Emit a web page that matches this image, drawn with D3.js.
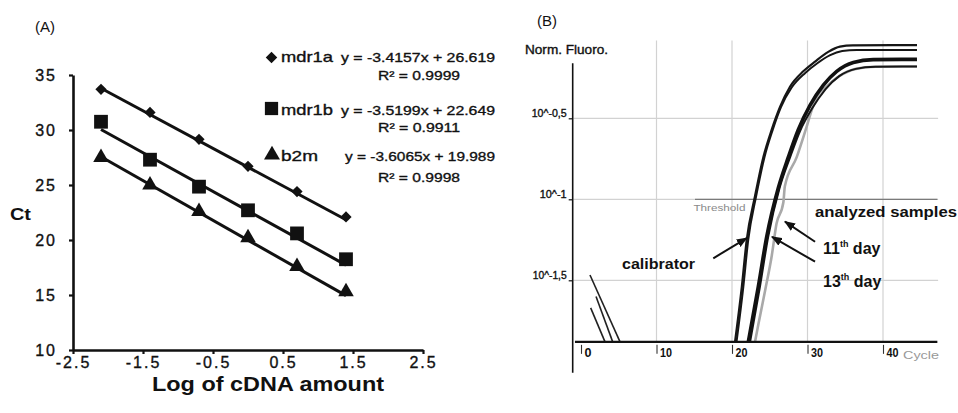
<!DOCTYPE html>
<html><head><meta charset="utf-8">
<script src="https://cdn.jsdelivr.net/npm/d3@7"></script>
<style>
html,body{margin:0;padding:0;background:#fff;}
svg{display:block;font-family:"Liberation Sans",Arial,sans-serif;}
.heavy{stroke:#111;stroke-width:0.35px;}
</style></head><body>
<svg id="chart" width="958" height="413"></svg>
<script>
// ---- (A) standard curves: Ct against log of cDNA amount ----
const logAmount = [-2.1, -1.4, -0.7, 0, 0.7, 1.4];
const ctMdr1a = [33.7, 31.6, 29.15, 26.7, 24.4, 22.1];
const ctMdr1b = [30.75, 27.3, 24.85, 22.7, 20.6, 18.25];
const ctB2m = [27.5, 25.0, 22.6, 20.2, 17.6, 15.3];
const geneNames = ["mdr1a", "mdr1b", "b2m"];
const fitSlopes = [-3.4157, -3.5199, -3.6065];
const fitIntercepts = [26.619, 22.649, 19.989];
const fitR2 = ["0.9999", "0.9911", "0.9998"];
const xTicksA = [-2.5, -1.5, -0.5, 0.5, 1.5, 2.5];
const xTickLabelsA = ["-2.5", "-1.5", "-0.5", "0.5", "1.5", "2.5"];
const yTicksA = [10, 15, 20, 25, 30, 35];

// ---- (B) amplification plot: log10 normalised fluorescence per cycle ----
const cycleTicks = [0, 10, 20, 30, 40];
const fluoroTicks = [-0.5, -1, -1.5];
const fluoroTickLabels = ["10^-0,5", "10^-1", "10^-1,5"];
const thresholdLevel = -1;
const baselineLevel = -1.88;
const calibratorA = [[20.4,-1.88],[21.3,-1.54],[21.95,-1.25],[23.05,-0.98],[24.15,-0.74],[25.26,-0.57],[26.36,-0.43],[27.68,-0.305],[29.44,-0.21],[31.0,-0.15],[32.75,-0.09],[34.3,-0.058],[36.0,-0.05],[44.5,-0.048]];
const calibratorB = [[20.6,-1.88],[21.5,-1.54],[22.15,-1.25],[23.2,-0.98],[24.3,-0.74],[25.4,-0.57],[26.5,-0.43],[27.9,-0.31],[29.7,-0.22],[31.3,-0.16],[33.0,-0.11],[34.6,-0.085],[36.5,-0.078],[44.5,-0.078]];
const day13A = [[22.16,-1.88],[23.48,-1.54],[24.6,-1.23],[26.13,-0.93],[27.46,-0.74],[28.78,-0.57],[30.33,-0.42],[32.1,-0.295],[33.87,-0.21],[36.07,-0.155],[38.7,-0.138],[44.5,-0.136]];
const day13B = [[22.4,-1.88],[23.7,-1.54],[24.8,-1.23],[26.3,-0.93],[27.7,-0.74],[29.0,-0.58],[30.6,-0.44],[32.4,-0.32],[34.2,-0.24],[36.4,-0.195],[39.0,-0.182],[44.5,-0.18]];
const day11 = [[23.05,-1.88],[23.5,-1.77],[24.4,-1.56],[25.26,-1.35],[25.9,-1.15],[26.8,-1.02],[27.0,-0.92],[28.57,-0.74],[29.9,-0.55],[30.56,-0.45],[31.2,-0.37],[32.4,-0.31],[34.2,-0.24],[36.4,-0.195],[39.0,-0.182],[44.5,-0.18]];
const earlyNoise = [
  [[1.19,-1.467],[5.17,-1.88]],
  [[1.99,-1.60],[4.2,-1.88]],
  [[1.28,-1.67],[3.18,-1.88]]
];

const svg = d3.select("#chart");

function txt(parent, str, x, y, o) {
  const t = parent.append("text").attr("x", x).attr("y", y)
    .attr("font-size", o.size || 14)
    .attr("font-weight", o.weight || "normal")
    .attr("text-anchor", o.anchor || "start")
    .attr("fill", o.fill || "#111")
    .text(str);
  if (o.heavy) t.attr("class", "heavy");
  if (o.width) t.attr("textLength", o.width).attr("lengthAdjust", "spacingAndGlyphs");
  return t;
}

// ================= Panel A =================
const xA = d3.scaleLinear().domain([-2.5, 2.5]).range([73, 423]);
const yA = d3.scaleLinear().domain([10, 35]).range([350, 75]);
const gA = svg.append("g");

const axisXA = gA.append("g").attr("transform", `translate(0,${yA(10)})`)
  .call(d3.axisBottom(xA).tickValues(xTicksA).tickFormat((d, i) => xTickLabelsA[i])
    .tickSize(4).tickSizeOuter(0).tickPadding(3));
const axisYA = gA.append("g").attr("transform", `translate(${xA(-2.5)},0)`)
  .call(d3.axisLeft(yA).tickValues(yTicksA).tickFormat(d3.format("d"))
    .tickSize(4).tickSizeOuter(0).tickPadding(12));
[axisXA, axisYA].forEach(a => {
  a.attr("font-family", null).attr("font-size", null);
  a.select(".domain").attr("stroke", "#111").attr("stroke-width", 2.6);
  a.selectAll(".tick line").attr("stroke", "#111").attr("stroke-width", 2.2);
  a.selectAll(".tick text").attr("fill", "#111").attr("font-size", 16)
    .attr("letter-spacing", 2).attr("class", "heavy");
});

txt(gA, "(A)", 35, 32, {size: 15});
txt(gA, "Ct", 10, 220, {size: 17, weight: "bold", width: 21});
txt(gA, "Log of cDNA amount", 268, 391, {size: 20, weight: "bold", anchor: "middle", width: 232});

const seriesA = [ctMdr1a, ctMdr1b, ctB2m];
const symbolsA = [d3.symbol(d3.symbolDiamond2, 80), d3.symbol(d3.symbolSquare, 190), d3.symbol(d3.symbolTriangle, 105)];

seriesA.forEach((vals, i) => {
  const x0 = logAmount[0], x1 = logAmount[logAmount.length - 1];
  gA.append("line")
    .attr("x1", xA(x0)).attr("y1", yA(fitSlopes[i] * x0 + fitIntercepts[i]))
    .attr("x2", xA(x1)).attr("y2", yA(fitSlopes[i] * x1 + fitIntercepts[i]))
    .attr("stroke", "#111").attr("stroke-width", 3);
  gA.selectAll(null).data(vals).enter().append("path")
    .attr("d", symbolsA[i])
    .attr("transform", (d, j) => `translate(${xA(logAmount[j])},${yA(d)})`)
    .attr("fill", "#111");
});

// legend with fitted equations
const legRowY = [62, 115, 161];
const legR2Y = [80, 132, 182];
const legSym = [d3.symbol(d3.symbolDiamond2, 85), d3.symbol(d3.symbolSquare, 175), d3.symbol(d3.symbolTriangle, 110)];
const legSymY = [57.5, 108.5, 155];
geneNames.forEach((name, i) => {
  gA.append("path").attr("d", legSym[i])
    .attr("transform", `translate(${i === 2 ? 272 : 271.5},${legSymY[i]})`).attr("fill", "#111");
  txt(gA, name, 281, legRowY[i], {size: 15, width: i === 2 ? 37 : 52, heavy: true});
  const eq = `y = ${fitSlopes[i]}x + ${fitIntercepts[i].toFixed(3)}`;
  txt(gA, eq, i === 2 ? 345 : 341, legRowY[i], {size: 13.5, width: i === 2 ? 150 : 154, heavy: true});
  txt(gA, `R² = ${fitR2[i]}`, 378, legR2Y[i], {size: 13.5, width: 82, heavy: true});
});

// ================= Panel B =================
const xB = d3.scaleLinear().domain([0, 40]).range([581, 883]);
const yB = d3.scaleLinear().domain([-2, 0]).range([361.3, 37.3]);
const gB = svg.append("g");
const lineB = d3.line().x(d => xB(d[0])).y(d => yB(d[1])).curve(d3.curveMonotoneX);

// grid
gB.selectAll(null).data(cycleTicks.filter(c => c > 0)).enter().append("line")
  .attr("x1", d => xB(d)).attr("x2", d => xB(d))
  .attr("y1", yB(-0.02)).attr("y2", yB(baselineLevel))
  .attr("stroke", "#d2d2d2").attr("stroke-width", 1.2);
gB.selectAll(null).data(fluoroTicks).enter().append("line")
  .attr("x1", xB(-1)).attr("x2", xB(47.3))
  .attr("y1", d => yB(d)).attr("y2", d => yB(d))
  .attr("stroke", "#d2d2d2").attr("stroke-width", 1.2);

// threshold
gB.append("line")
  .attr("x1", xB(15.1)).attr("x2", xB(47.2))
  .attr("y1", yB(thresholdLevel)).attr("y2", yB(thresholdLevel))
  .attr("stroke", "#7a7a7a").attr("stroke-width", 1.3);
txt(gB, "Threshold", xB(14.9), yB(thresholdLevel) + 12, {size: 9, fill: "#8a8a8a", width: 52});

// early-cycle baseline traces
earlyNoise.forEach(seg => {
  gB.append("path").attr("d", lineB(seg)).attr("fill", "none")
    .attr("stroke", "#222").attr("stroke-width", 1.6);
});

// amplification curves
gB.append("path").attr("d", lineB(day11)).attr("fill", "none")
  .attr("stroke", "#a9a9a9").attr("stroke-width", 2.6);
gB.append("path").attr("d", lineB(calibratorB)).attr("fill", "none")
  .attr("stroke", "#161616").attr("stroke-width", 2);
gB.append("path").attr("d", lineB(calibratorA)).attr("fill", "none")
  .attr("stroke", "#161616").attr("stroke-width", 2.2);
gB.append("path").attr("d", lineB(day13B)).attr("fill", "none")
  .attr("stroke", "#161616").attr("stroke-width", 2);
gB.append("path").attr("d", lineB(day13A)).attr("fill", "none")
  .attr("stroke", "#111").attr("stroke-width", 3.6);

// axes
const axisXB = gB.append("g").attr("transform", `translate(0,${yB(baselineLevel)})`)
  .call(d3.axisBottom(xB).tickValues(cycleTicks).tickFormat(d3.format("d")).tickSize(12).tickSizeOuter(0));
axisXB.select(".domain").remove();
axisXB.attr("font-family", null).attr("font-size", null);
axisXB.selectAll(".tick line").attr("stroke", "#333").attr("stroke-width", 1.1).attr("y1", 3);
axisXB.selectAll(".tick text").attr("fill", "#111").attr("font-size", 13).attr("font-weight", "bold")
  .attr("text-anchor", "start").attr("x", 3).attr("y", 6).attr("dy", "0.71em")
  .attr("textLength", d => d === 0 ? 7 : 12).attr("lengthAdjust", "spacingAndGlyphs");
gB.append("line").attr("x1", xB(-0.8)).attr("x2", xB(47.2))
  .attr("y1", yB(baselineLevel)).attr("y2", yB(baselineLevel))
  .attr("stroke", "#111").attr("stroke-width", 2.2);

const axisYB = gB.append("g").attr("transform", `translate(${xB(-1.1)},0)`)
  .call(d3.axisLeft(yB).tickValues(fluoroTicks).tickFormat((d, i) => fluoroTickLabels[i]).tickSize(4).tickSizeOuter(0).tickPadding(2));
axisYB.select(".domain").remove();
axisYB.attr("font-family", null).attr("font-size", null);
axisYB.selectAll(".tick line").attr("stroke", "#111").attr("stroke-width", 1.2);
axisYB.selectAll(".tick text").attr("fill", "#111").attr("font-size", 10.5)
  .attr("dy", "-0.15em").attr("class", "heavy")
  .attr("textLength", (d, i) => [35, 27, 34][i]).attr("lengthAdjust", "spacingAndGlyphs");
gB.append("line").attr("x1", xB(-1.1)).attr("x2", xB(-1.1))
  .attr("y1", yB(-0.16)).attr("y2", yB(-2.07))
  .attr("stroke", "#111").attr("stroke-width", 1.6);

txt(gB, "(B)", 537, 26, {size: 15});
txt(gB, "Norm. Fluoro.", 525, 54, {size: 12, width: 83, heavy: true});
txt(gB, "Cycle", 903, 359, {size: 10.5, fill: "#999", width: 36});

// annotations
const defs = svg.append("defs");
defs.append("marker").attr("id", "ah").attr("viewBox", "0 0 10 8")
  .attr("refX", 9).attr("refY", 4).attr("markerWidth", 11).attr("markerHeight", 9)
  .attr("markerUnits", "userSpaceOnUse").attr("orient", "auto")
  .append("path").attr("d", "M0,0L10,4L0,8Z").attr("fill", "#111");

const arrows = [
  [[17.52, -1.364], [21.95, -1.24]],
  [[31.0, -1.262], [27.02, -1.138]],
  [[31.0, -1.385], [25.3, -1.232]]
];
arrows.forEach(a => {
  gB.append("line")
    .attr("x1", xB(a[0][0])).attr("y1", yB(a[0][1]))
    .attr("x2", xB(a[1][0])).attr("y2", yB(a[1][1]))
    .attr("stroke", "#111").attr("stroke-width", 2).attr("marker-end", "url(#ah)");
});

txt(gB, "analyzed samples", 815, 217, {size: 15, weight: "bold", width: 142});
txt(gB, "calibrator", 622, 269, {size: 15, weight: "bold", width: 73});
[["11", 254], ["13", 287]].forEach(([n, y]) => {
  const t = gB.append("text").attr("x", 823).attr("y", y)
    .attr("font-size", 16).attr("font-weight", "bold").attr("fill", "#111");
  t.append("tspan").text(n);
  t.append("tspan").attr("font-size", 9).attr("dy", -7).text("th");
  t.append("tspan").attr("dy", 7).text(" day");
});
</script>
</body></html>
